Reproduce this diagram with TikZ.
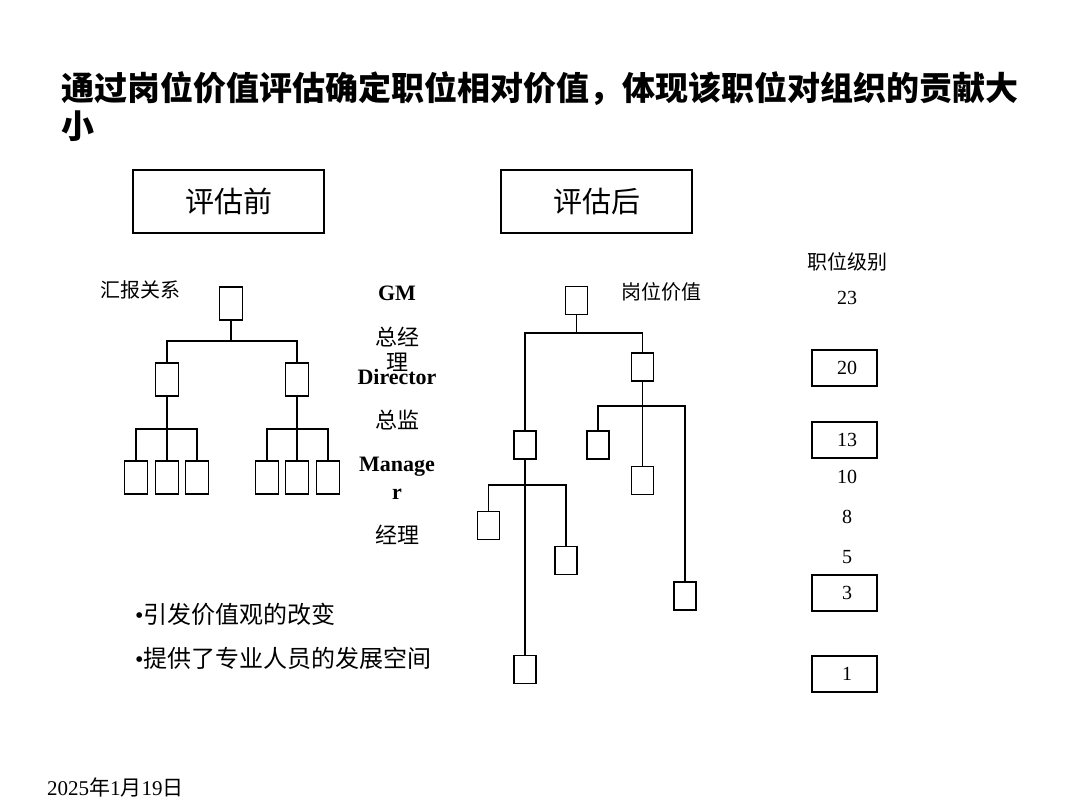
\documentclass[tikz,border=0pt]{standalone}
\usepackage{fontspec}
\setmainfont{Liberation Serif}
\newfontfamily\cjk{Noto Sans CJK SC}
\usetikzlibrary{positioning}
\tikzset{
  posbox/.style={
    rectangle, draw=black, line width=1.4pt,
    minimum width=23pt, minimum height=33pt, inner sep=0pt,
  },
  valbox/.style={posbox, minimum width=22pt, minimum height=28pt},
  headbox/.style={
    rectangle, draw=black, line width=1.3pt,
    minimum width=191pt, minimum height=63pt,
    font=\cjk\fontsize{29}{34}\selectfont,
  },
  gradebox/.style={
    rectangle, draw=black, line width=1.3pt,
    minimum width=65pt, minimum height=36pt,
    font=\fontsize{20}{24}\selectfont,
  },
  grade/.style={font=\fontsize{20}{24}\selectfont},
  level/.style={font=\bfseries\fontsize{22}{28}\selectfont, align=center},
  levelcn/.style={font=\cjk\fontsize{22}{25}\selectfont, align=center},
  caption/.style={font=\cjk\fontsize{20}{24}\selectfont},
  bullet/.style={font=\cjk\fontsize{24}{28}\selectfont, anchor=west, inner sep=0pt},
  link/.style={line width=1.4pt},
}

\begin{document}
\begin{tikzpicture}[x=1pt, y=-1pt]
  \useasboundingbox (0,0) rectangle (1080,810);

  % Title
  \node[anchor=base west, inner sep=0pt, align=left,
        font=\cjk\bfseries\fontsize{33}{38}\selectfont] (title) at (61,139)
    {通过岗位价值评估确定职位相对价值，体现该职位对组织的贡献大\\小};

  % Headings
  \node[headbox] (pre)  at (228.5,201.5) {评估前};
  \node[headbox] (post) at (596.5,201.5) {评估后};

  % Before: reporting tree
  \node[caption] (report) at (140,290) {汇报关系};
  \node[posbox] (gm) at (231,303.5) {};
  \node[posbox] (dl) at (167,379.5) {};
  \node[posbox] (dr) at (297,379.5) {};
  \node[posbox] (ml1) at (136,477.5) {};
  \node[posbox] (ml2) at (167,477.5) {};
  \node[posbox] (ml3) at (197,477.5) {};
  \node[posbox] (mr1) at (267,477.5) {};
  \node[posbox] (mr2) at (297,477.5) {};
  \node[posbox] (mr3) at (328,477.5) {};

  \coordinate (lj0) at (231,341);
  \coordinate (lj1) at (167,429);
  \coordinate (lj2) at (297,429);

  \draw[link] (gm.south) -- (lj0);
  \draw[link] (dl.north) |- (lj0) -| (dr.north);
  \draw[link] (dl.south) -- (ml2.north);
  \draw[link] (ml1.north) |- (lj1) -| (ml3.north);
  \draw[link] (dr.south) -- (mr2.north);
  \draw[link] (mr1.north) |- (lj2) -| (mr3.north);

  % Level names
  \node[level]   (lvgm)  at (397,293)   {GM};
  \node[levelcn] (lvgmc) at (397,349.5) {总经\\理};
  \node[level]   (lvdir) at (397,377)   {Director};
  \node[levelcn] (lvdic) at (397,420)   {总监};
  \node[level]   (lvmgr) at (397,478)   {Manage\\r};
  \node[levelcn] (lvmgc) at (397,535)   {经理};

  % After: value tree
  \node[caption] (value) at (661,292) {岗位价值};
  \node[valbox] (vt)  at (576.5,300.5) {};
  \node[valbox] (vb)  at (642.5,367)   {};
  \node[valbox] (va)  at (525,445)     {};
  \node[valbox] (vc1) at (598,445)     {};
  \node[valbox] (vc2) at (642.5,480.5) {};
  \node[valbox] (vc3) at (685,596)     {};
  \node[valbox] (va1) at (488.5,525.5) {};
  \node[valbox] (va2) at (566,560.5)   {};
  \node[valbox] (va3) at (525,669.5)   {};

  \coordinate (rj0) at (576.5,333);
  \coordinate (rj1) at (642.5,406);
  \coordinate (rj2) at (525,485);

  \draw[link] (vt.south) -- (rj0);
  \draw[link] (va.north) |- (rj0) -| (vb.north);
  \draw[link] (vb.south) -- (vc2.north);
  \draw[link] (vc1.north) |- (rj1) -| (vc3.north);
  \draw[link] (va.south) -- (va3.north);
  \draw[link] (va1.north) |- (rj2) -| (va2.north);

  % Grades
  \node[caption]  (gradehd) at (847,262) {职位级别};
  \node[grade]    (g23) at (847,298)   {23};
  \node[gradebox] (g20) at (844.5,368) {\hspace*{5pt}20};
  \node[gradebox] (g13) at (844.5,440) {\hspace*{5pt}13};
  \node[grade]    (g10) at (847,477)   {10};
  \node[grade]    (g8)  at (847,517)   {8};
  \node[grade]    (g5)  at (847,557)   {5};
  \node[gradebox] (g3)  at (844.5,593) {\hspace*{5pt}3};
  \node[gradebox] (g1)  at (844.5,674) {\hspace*{5pt}1};

  % Notes
  \node[bullet] (note1) at (135,614) {{\rmfamily •}引发价值观的改变};
  \node[bullet] (note2) at (135,658) {{\rmfamily •}提供了专业人员的发展空间};

  \node[anchor=west, inner sep=0pt, font=\fontsize{21}{25}\selectfont] (date) at (47,787)
    {2025{\cjk 年}1{\cjk 月}19{\cjk 日}};
\end{tikzpicture}
\end{document}
